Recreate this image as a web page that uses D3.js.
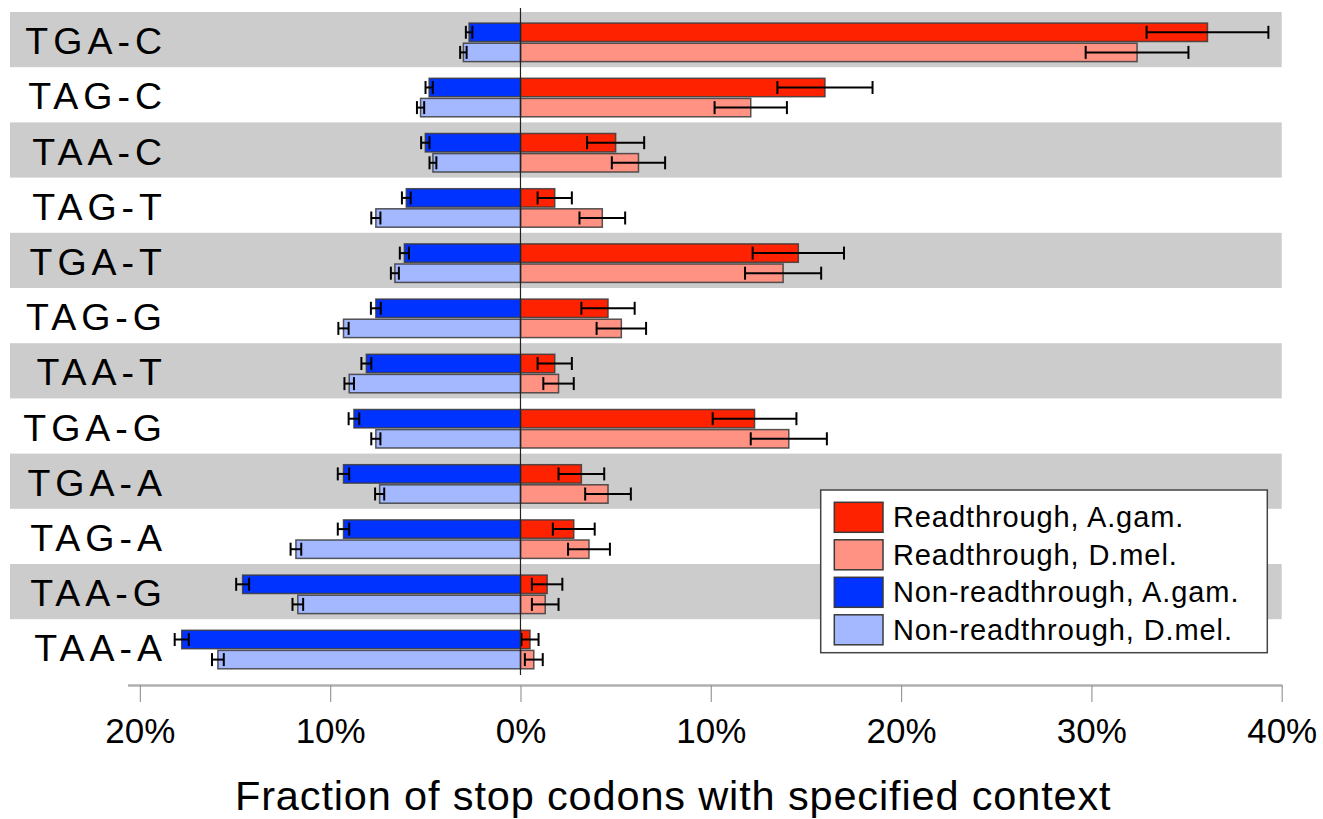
<!DOCTYPE html>
<html>
<head>
<meta charset="utf-8">
<script src="https://cdn.jsdelivr.net/npm/d3@7"></script>
<style>
  html, body { margin: 0; padding: 0; background: #fff; }
  svg { display: block; font-family: "Liberation Sans", Arial, sans-serif; }
</style>
</head>
<body>
<svg id="chart" width="1323" height="819"></svg>
<script>
// Stop-codon contexts, top to bottom
const categories = ["TGA-C", "TAG-C", "TAA-C", "TAG-T", "TGA-T", "TAG-G",
                    "TAA-T", "TGA-G", "TGA-A", "TAG-A", "TAA-G", "TAA-A"];

// Readthrough stop codons (% of stop codons), plotted to the right
const readAgam    = [36.1, 16.0, 5.0, 1.8, 14.6, 4.6, 1.8, 12.3, 3.2, 2.8, 1.4, 0.5];
const readAgamErr = [3.2, 2.5, 1.5, 0.9, 2.4, 1.4, 0.9, 2.2, 1.2, 1.1, 0.8, 0.45];
const readDmel    = [32.4, 12.1, 6.2, 4.3, 13.8, 5.3, 2.0, 14.1, 4.6, 3.6, 1.3, 0.7];
const readDmelErr = [2.7, 1.9, 1.4, 1.2, 2.0, 1.3, 0.8, 2.0, 1.2, 1.1, 0.7, 0.47];

// Non-readthrough stop codons (% of stop codons), plotted to the left
const nonAgam    = [2.7, 4.8, 5.0, 6.0, 6.1, 7.6, 8.1, 8.75, 9.3, 9.3, 14.6, 17.8];
const nonAgamErr = [0.17, 0.19, 0.22, 0.23, 0.24, 0.26, 0.26, 0.28, 0.30, 0.30, 0.34, 0.37];
const nonDmel    = [3.0, 5.25, 4.6, 7.6, 6.6, 9.3, 9.0, 7.6, 7.4, 11.8, 11.7, 15.9];
const nonDmelErr = [0.17, 0.19, 0.18, 0.24, 0.21, 0.27, 0.25, 0.24, 0.24, 0.28, 0.28, 0.31];

// Axis ticks (signed position; labels show magnitude)
const tickValues = [-20, -10, 0, 10, 20, 30, 40];

const legendLabels = ["Readthrough, A.gam.", "Readthrough, D.mel.",
                      "Non-readthrough, A.gam.", "Non-readthrough, D.mel."];
const colors = ["#ff2200", "#ff9282", "#0033ff", "#a4b8ff"];

const svg = d3.select("#chart");

const x = d3.scaleLinear().domain([-20.65, 40]).range([127.5, 1281.7]);
const y = d3.scaleBand().domain(categories).range([12, 12 + 12 * 55.2]).paddingInner(0);
const rowH = y.bandwidth();
const barH = 18.4;
const barOff = [11.1, 31.2];

// Alternating grey row bands
svg.append("g").selectAll("rect")
  .data(categories.filter((d, i) => i % 2 === 0))
  .join("rect")
  .attr("x", 10)
  .attr("y", d => y(d))
  .attr("width", x(40) - 10)
  .attr("height", rowH)
  .attr("fill", "#cccccc");

// Series definitions: sign gives the direction from zero
const series = [
  { vals: readAgam, errs: readAgamErr, sign: 1, slot: 0, color: colors[0] },
  { vals: readDmel, errs: readDmelErr, sign: 1, slot: 1, color: colors[1] },
  { vals: nonAgam,  errs: nonAgamErr,  sign: -1, slot: 0, color: colors[2] },
  { vals: nonDmel,  errs: nonDmelErr,  sign: -1, slot: 1, color: colors[3] }
];

const barsG = svg.append("g");
const errG = svg.append("g");

series.forEach(s => {
  const rows = categories.map((c, i) => ({ c, v: s.vals[i] * s.sign, e: s.errs[i] }));
  barsG.append("g").selectAll("rect")
    .data(rows)
    .join("rect")
    .attr("x", d => Math.min(x(0), x(d.v)))
    .attr("y", d => y(d.c) + barOff[s.slot])
    .attr("width", d => Math.abs(x(d.v) - x(0)))
    .attr("height", barH)
    .attr("fill", s.color)
    .attr("stroke", "#3a3a3a")
    .attr("stroke-opacity", 0.85)
    .attr("stroke-width", 1.5);

  const eg = errG.append("g").selectAll("g")
    .data(rows)
    .join("g")
    .attr("stroke", "#000")
    .attr("stroke-width", 2);
  const cy = d => y(d.c) + barOff[s.slot] + barH / 2;
  eg.append("line")
    .attr("x1", d => x(d.v - d.e)).attr("x2", d => x(d.v + d.e))
    .attr("y1", cy).attr("y2", cy);
  eg.append("line")
    .attr("x1", d => x(d.v - d.e)).attr("x2", d => x(d.v - d.e))
    .attr("y1", d => cy(d) - 6.5).attr("y2", d => cy(d) + 6.5);
  eg.append("line")
    .attr("x1", d => x(d.v + d.e)).attr("x2", d => x(d.v + d.e))
    .attr("y1", d => cy(d) - 6.5).attr("y2", d => cy(d) + 6.5);
});

// Zero line
svg.append("line")
  .attr("x1", x(0)).attr("x2", x(0))
  .attr("y1", 8).attr("y2", 675)
  .attr("stroke", "#222").attr("stroke-width", 1.2);

// Category labels
svg.append("g").selectAll("text")
  .data(categories)
  .join("text")
  .attr("x", 167)
  .attr("y", d => y(d) + rowH / 2 + 14.5)
  .attr("text-anchor", "end")
  .attr("font-size", 37.5)
  .attr("letter-spacing", 5)
  .attr("fill", "#000")
  .text(d => d);

// Bottom axis
const axis = d3.axisBottom(x)
  .tickValues(tickValues)
  .tickFormat(d => Math.abs(d) + "%")
  .tickSize(17)
  .tickSizeOuter(0)
  .tickPadding(16);

const axG = svg.append("g")
  .attr("transform", "translate(0,685)")
  .call(axis);
axG.select(".domain").attr("stroke", "#b0b0b0").attr("stroke-width", 2.5);
axG.selectAll(".tick line").attr("stroke", "#999").attr("stroke-width", 1.2);
axG.selectAll(".tick text")
  .attr("font-size", 35)
  .attr("font-family", "Liberation Sans, Arial, sans-serif")
  .attr("fill", "#000")
  .attr("dy", null)
  .attr("y", 57.5);

// Axis title
svg.append("text")
  .attr("x", 235)
  .attr("y", 810)
  .attr("font-size", 41.5)
  .attr("letter-spacing", 0.85)
  .attr("fill", "#000")
  .text("Fraction of stop codons with specified context");

// Legend
const lg = svg.append("g");
lg.append("rect")
  .attr("x", 820.7).attr("y", 490)
  .attr("width", 446.6).attr("height", 162.7)
  .attr("fill", "#fff")
  .attr("stroke", "#444").attr("stroke-width", 1.5);

const items = lg.selectAll("g.item")
  .data(legendLabels)
  .join("g")
  .attr("class", "item")
  .attr("transform", (d, i) => `translate(0,${i * 37.5})`);
items.append("rect")
  .attr("x", 834.3).attr("y", 502.3)
  .attr("width", 48.7).attr("height", 30)
  .attr("fill", (d, i) => colors[i])
  .attr("stroke", "#3a3a3a").attr("stroke-width", 1.5);
items.append("text")
  .attr("x", 893)
  .attr("y", 527.3)
  .attr("font-size", 29)
  .attr("letter-spacing", 0.9)
  .attr("fill", "#000")
  .text(d => d);
</script>
</body>
</html>
